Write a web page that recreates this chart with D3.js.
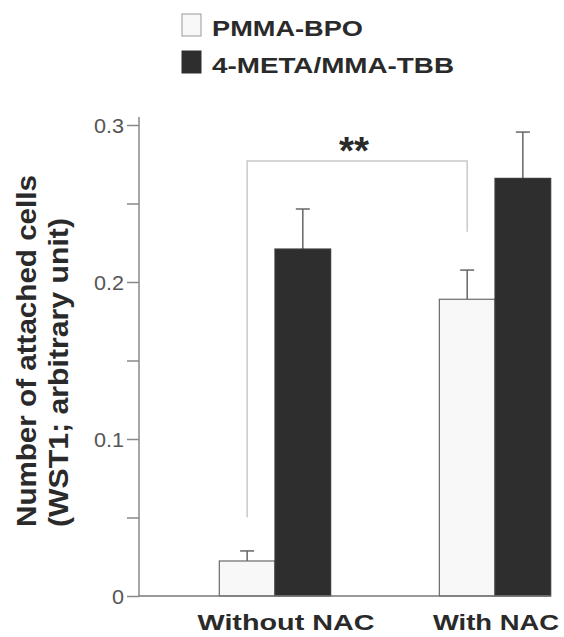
<!DOCTYPE html>
<html>
<head>
<meta charset="utf-8">
<script src="https://cdn.jsdelivr.net/npm/d3@7"></script>
<style>
  body { margin: 0; background: #fff; }
  svg { display: block; font-family: "Liberation Sans", Arial, sans-serif; }
</style>
</head>
<body>
<svg id="chart" width="564" height="637"></svg>
<script>
var groups = ['Without NAC', 'With NAC'];
var series = ['PMMA-BPO', '4-META/MMA-TBB'];
// mean values per group, one array per series
var pmmaValues = [0.0223, 0.189];
var metaValues = [0.221, 0.266];
// mean + error (top of error bar)
var pmmaErrTop = [0.0287, 0.2076];
var metaErrTop = [0.2465, 0.2955];
var yTicks = [0, 0.05, 0.1, 0.15, 0.2, 0.25, 0.3];
var yTickLabels = { 0: '0', 0.1: '0.1', 0.2: '0.2', 0.3: '0.3' };
// significance bracket: [left end, right end, top], in axis units
var bracketLevels = [0.05, 0.232, 0.277];
var bracketLabel = '**';

var seriesFill = ['#f8f8f8', '#2e2e2e'];
var seriesStroke = ['#6a6a6a', '#3a3a3a'];

var svg = d3.select('#chart');

var y = d3.scaleLinear().domain([0, 0.3]).range([596, 125]);
var x0 = d3.scaleBand().domain(groups).range([139, 631])
  .paddingInner(0.494).paddingOuter(0.365);
var x1 = d3.scaleBand().domain(series).range([0, x0.bandwidth()]);

var bars = [];
groups.forEach(function(g, i) {
  bars.push({ group: g, series: series[0], value: pmmaValues[i], err: pmmaErrTop[i], k: 0 });
  bars.push({ group: g, series: series[1], value: metaValues[i], err: metaErrTop[i], k: 1 });
});

function barX(d) { return x0(d.group) + x1(d.series); }
function barMid(d) { return barX(d) + x1.bandwidth() / 2; }

// bracket (drawn under the bars)
var leftX = x0(groups[0]) + x1(series[0]) + x1.bandwidth() / 2;
var rightX = x0(groups[1]) + x1(series[0]) + x1.bandwidth() / 2;
svg.append('path')
  .attr('d', 'M' + leftX + ',' + y(bracketLevels[0]) +
    'V' + y(bracketLevels[2]) + 'H' + rightX + 'V' + y(bracketLevels[1]))
  .attr('fill', 'none')
  .attr('stroke', '#c9c9c9')
  .attr('stroke-width', 1.5);
svg.append('text')
  .attr('x', 339)
  .attr('y', 164)
  .attr('font-size', 38)
  .attr('font-weight', 'bold')
  .attr('fill', '#2a2a2a')
  .attr('textLength', 30)
  .attr('lengthAdjust', 'spacingAndGlyphs')
  .text(bracketLabel);

// error bars
var err = svg.append('g').attr('stroke', '#666').attr('stroke-width', 1.5);
err.selectAll('line.stem').data(bars).enter().append('line')
  .attr('class', 'stem')
  .attr('x1', barMid).attr('x2', barMid)
  .attr('y1', function(d) { return y(d.value); })
  .attr('y2', function(d) { return y(d.err); });
err.selectAll('line.cap').data(bars).enter().append('line')
  .attr('class', 'cap')
  .attr('x1', function(d) { return barMid(d) - 7; })
  .attr('x2', function(d) { return barMid(d) + 7; })
  .attr('y1', function(d) { return y(d.err); })
  .attr('y2', function(d) { return y(d.err); });

// bars
svg.append('g').selectAll('rect').data(bars).enter().append('rect')
  .attr('x', barX)
  .attr('y', function(d) { return y(d.value); })
  .attr('width', x1.bandwidth())
  .attr('height', function(d) { return y(0) - y(d.value); })
  .attr('fill', function(d) { return seriesFill[d.k]; })
  .attr('stroke', function(d) { return seriesStroke[d.k]; })
  .attr('stroke-width', 1.2);

// y axis
var yAxis = d3.axisLeft(y)
  .tickValues(yTicks)
  .tickSize(12)
  .tickPadding(3)
  .tickFormat(function(d) { return yTickLabels[d] || ''; });
var yg = svg.append('g').attr('transform', 'translate(139,0)').call(yAxis);
yg.select('.domain').remove();
yg.append('line')
  .attr('y1', y(0)).attr('y2', 117)
  .attr('stroke', '#888').attr('stroke-width', 1.5);
yg.selectAll('.tick line').attr('stroke', '#888').attr('stroke-width', 1.5);
yg.selectAll('.tick text')
  .attr('font-size', 20)
  .attr('fill', '#555')
  .attr('font-family', '"Liberation Sans", Arial, sans-serif')
  .attr('dy', '0.36em')
  .each(function(d) {
    var t = d3.select(this);
    if (t.text()) {
      t.attr('textLength', t.text().length === 1 ? 12 : 30)
        .attr('lengthAdjust', 'spacingAndGlyphs');
    }
  });

// x baseline
var lastBar = bars[bars.length - 1];
svg.append('line')
  .attr('x1', 139).attr('x2', barX(lastBar) + x1.bandwidth())
  .attr('y1', y(0)).attr('y2', y(0))
  .attr('stroke', '#777').attr('stroke-width', 1.5);

// group labels
var groupLabelCenter = [286, 496];
var groupLabelWidth = [177, 126];
svg.append('g').selectAll('text').data(groups).enter().append('text')
  .attr('x', function(d, i) { return groupLabelCenter[i]; })
  .attr('y', 630)
  .attr('text-anchor', 'middle')
  .attr('font-size', 22)
  .attr('font-weight', 'bold')
  .attr('fill', '#2a2a2a')
  .attr('textLength', function(d, i) { return groupLabelWidth[i]; })
  .attr('lengthAdjust', 'spacingAndGlyphs')
  .text(function(d) { return d; });

// y title
var yTitle = ['Number of attached cells', '(WST1; arbitrary unit)'];
var yTitleX = [36, 68];
var yTitleLen = [352, 309];
svg.append('g').selectAll('text').data(yTitle).enter().append('text')
  .attr('transform', function(d, i) { return 'translate(' + yTitleX[i] + ',527) rotate(-90)'; })
  .attr('font-size', 27)
  .attr('font-weight', 'bold')
  .attr('fill', '#2a2a2a')
  .attr('textLength', function(d, i) { return yTitleLen[i]; })
  .attr('lengthAdjust', 'spacingAndGlyphs')
  .text(function(d) { return d; });

// legend
var legendWidth = [151, 242];
var legend = svg.append('g').selectAll('g').data(series).enter().append('g')
  .attr('transform', function(d, i) { return 'translate(182,' + (14 + i * 37) + ')'; });
legend.append('rect')
  .attr('width', 19).attr('height', 22)
  .attr('fill', function(d, i) { return seriesFill[i]; })
  .attr('stroke', function(d, i) { return i ? '#2e2e2e' : '#999'; })
  .attr('stroke-width', 1);
legend.append('text')
  .attr('x', 30).attr('y', 22)
  .attr('font-size', 22)
  .attr('font-weight', 'bold')
  .attr('fill', '#2a2a2a')
  .attr('textLength', function(d, i) { return legendWidth[i]; })
  .attr('lengthAdjust', 'spacingAndGlyphs')
  .text(function(d) { return d; });
</script>
</body>
</html>
